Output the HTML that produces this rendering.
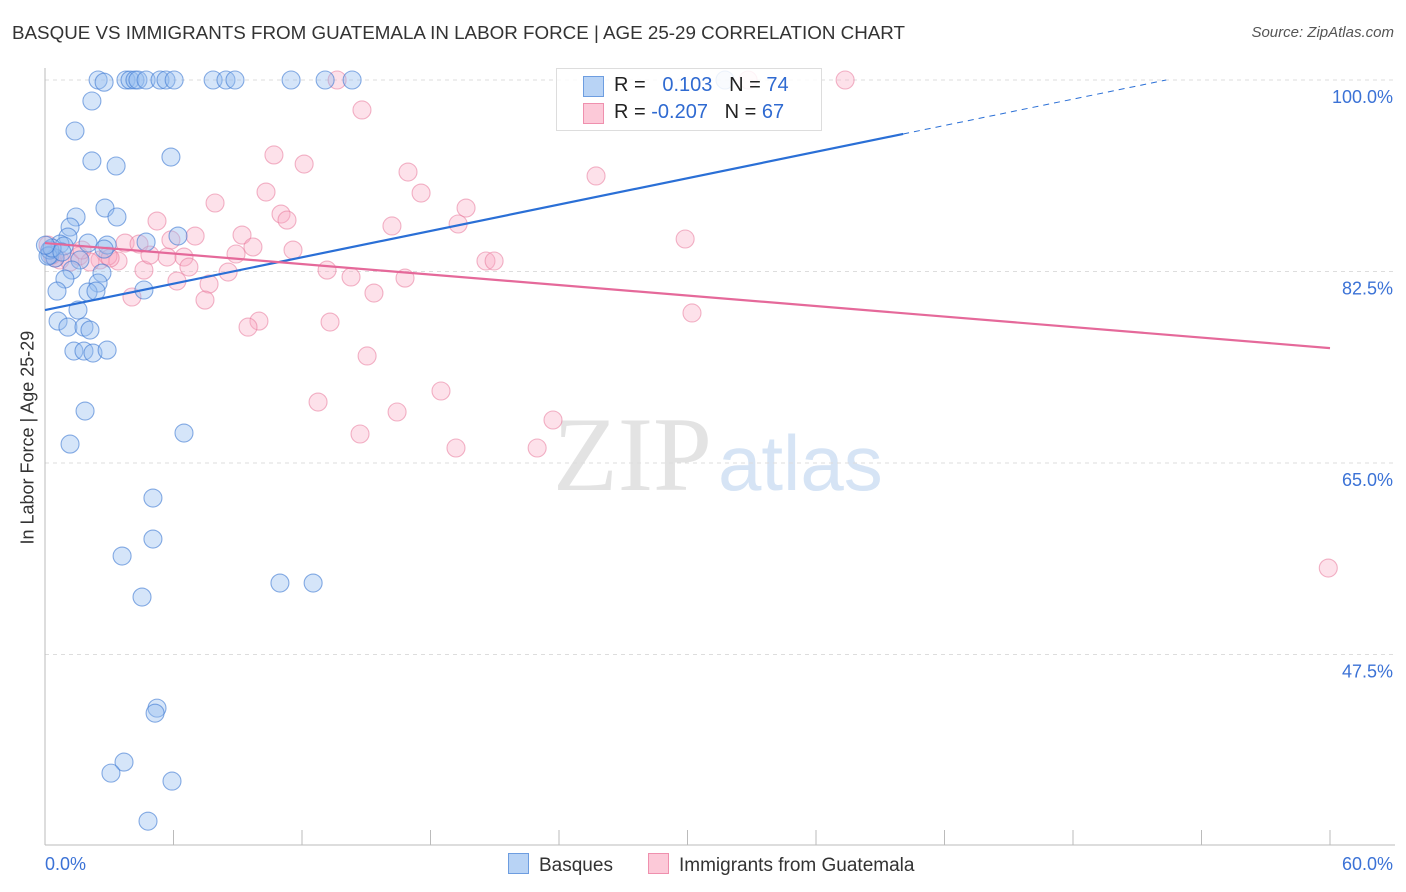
<!DOCTYPE html>
<html><head><meta charset="utf-8">
<style>
body{margin:0;background:#fff;font-family:"Liberation Sans",sans-serif;}
#wrap{position:relative;width:1406px;height:892px;overflow:hidden;}
.t{position:absolute;white-space:nowrap;}
</style></head>
<body>
<div id="wrap">
<div class="t" style="left:12px;top:22px;font-size:18.8px;color:#333;">BASQUE VS IMMIGRANTS FROM GUATEMALA IN LABOR FORCE | AGE 25-29 CORRELATION CHART</div>
<div class="t" style="right:12px;top:24px;font-size:15px;color:#555;font-style:italic;">Source: ZipAtlas.com</div>
<div class="t" style="left:-62px;top:444px;font-size:18px;color:#333;transform:rotate(-90deg);width:180px;text-align:center;">In Labor Force | Age 25-29</div>
<svg id="plot" width="1406" height="892" style="position:absolute;left:0;top:0"></svg>
<div class="t" style="left:556px;top:68px;width:264px;height:61px;border:1px solid #ddd;background:rgba(255,255,255,0.85);"></div>
<div class="t" style="left:583px;top:76px;width:19px;height:19px;background:#b8d3f5;border:1px solid #6d9de0;"></div>
<div class="t" style="left:583px;top:103px;width:19px;height:19px;background:#fcc9d8;border:1px solid #ef90ae;"></div>
<div class="t" style="left:614px;top:74px;font-size:20px;color:#222;">R = &nbsp;&nbsp;<span style="color:#2f6ad1">0.103</span>&nbsp;&nbsp;&nbsp;N = <span style="color:#2f6ad1">74</span></div>
<div class="t" style="left:614px;top:101px;font-size:20px;color:#222;">R = <span style="color:#2f6ad1">-0.207</span>&nbsp;&nbsp;&nbsp;N = <span style="color:#2f6ad1">67</span></div>
<div class="t" style="left:508px;top:853px;font-size:19px;color:#333;"><span style="display:inline-block;width:19px;height:19px;background:#b8d3f5;border:1px solid #6d9de0;vertical-align:-3px;margin-right:10px"></span>Basques</div>
<div class="t" style="left:648px;top:853px;font-size:19px;color:#333;"><span style="display:inline-block;width:19px;height:19px;background:#fcc9d8;border:1px solid #ef90ae;vertical-align:-3px;margin-right:10px"></span>Immigrants from Guatemala</div>
</div>
<script>
const yTicks=[100,82.5,65,47.5];
const yTickLabels=["100.0%","82.5%","65.0%","47.5%"];
const xTicks=[0,6,12,18,24,30,36,42,48,54,60];
const xEndLabels=["0.0%","60.0%"];
const basqueX=[2.48,3.78,3.97,4.20,4.34,4.72,5.37,5.65,6.03,7.85,8.45,8.87,11.49,13.08,14.34,2.19,1.40,2.19,3.32,5.88,2.80,3.36,1.45,1.17,1.07,0.70,0.89,2.01,2.90,2.76,4.72,6.21,0.23,0.47,1.63,1.26,2.66,0.93,2.48,0.56,2.01,2.38,4.62,1.54,0.61,1.07,1.82,2.10,1.35,1.82,2.24,2.90,1.87,1.17,6.49,5.04,5.04,3.60,10.97,12.52,4.53,5.23,5.14,3.69,3.08,5.93,4.81,0.23,0.14,0.33,0.79,0.02,2.76,31.75];
const basqueY=[100,100,100,100,100,100,100,100,100,100,100,100,100,100,100,98.08,95.34,92.60,92.14,92.96,88.30,87.48,87.48,86.56,85.65,85.01,84.83,85.10,84.92,84.55,85.19,85.74,84.00,83.73,83.55,82.63,82.36,81.81,81.45,80.71,80.62,80.71,80.81,78.98,77.97,77.42,77.42,77.15,75.23,75.23,75.05,75.32,69.75,66.73,67.74,61.80,58.05,56.50,54.03,54.03,52.75,42.60,42.14,37.67,36.66,35.93,32.27,84.46,83.91,84.64,84.28,84.9,99.8,100];
const guatX=[13.64,32.83,37.36,14.80,10.69,12.10,16.95,25.73,10.32,17.56,7.94,11.02,11.30,19.66,5.23,16.20,19.29,9.20,7.01,29.89,3.74,4.39,5.88,9.71,11.58,8.92,5.70,6.49,1.59,2.57,3.41,2.94,0.70,4.62,6.72,8.55,13.17,14.29,16.81,20.59,20.97,6.16,7.66,15.36,7.47,4.06,9.99,9.48,13.31,30.21,15.04,18.49,12.75,16.44,23.72,14.71,19.19,22.98,59.92,0.14,0.47,1.17,2.10,0.33,3.04,1.73,4.90];
const guatY=[100,100,100,97.26,93.15,92.32,91.59,91.23,89.76,89.67,88.76,87.75,87.20,88.30,87.11,86.66,86.84,85.83,85.74,85.47,85.10,85.01,85.38,84.74,84.46,84.10,83.82,83.82,83.91,83.55,83.46,83.91,83.55,82.63,82.91,82.45,82.63,82.00,81.90,83.46,83.46,81.63,81.35,80.53,79.89,80.17,77.97,77.42,77.88,78.71,74.78,71.58,70.57,69.66,68.93,67.65,66.37,66.37,55.40,84.92,83.73,83.37,83.37,84.00,83.73,84.46,84.00];
const basqueFit=[78.98,0.4015];
const guatFit=[85.10,-0.16];
const X=v=>45+v/60*1285;
const Y=v=>80+(100-v)/17.5*191.5;
const svg=document.getElementById('plot');
const NS='http://www.w3.org/2000/svg';
function mk(tag,a){const e=document.createElementNS(NS,tag);for(const k in a)e.setAttribute(k,a[k]);svg.appendChild(e);return e;}
let w=mk('text',{x:553,y:490,'font-size':106,fill:'#e3e3e3','font-family':'Liberation Serif, serif'});w.textContent='ZIP';


w=mk('text',{x:718,y:490,'font-size':78,fill:'#d6e4f5','font-family':'Liberation Sans, sans-serif'});w.textContent='atlas';


yTicks.forEach((t,i)=>{
 const g=mk('line',{x1:45,x2:1395,y1:Y(t),y2:Y(t),stroke:'#ddd','stroke-dasharray':'4,4'});
 
 
 const l=mk('text',{x:1393,y:Y(t)+23,'text-anchor':'end','font-size':18,fill:'#3b72d6','font-family':'Liberation Sans, sans-serif'});
 l.textContent=yTickLabels[i];
 
 
});
let ax=mk('line',{x1:45,x2:45,y1:68,y2:845,stroke:'#bbb'});


ax=mk('line',{x1:45,x2:1395,y1:845,y2:845,stroke:'#bbb'});


xTicks.forEach(t=>{const e=mk('line',{x1:X(t),x2:X(t),y1:830,y2:845,stroke:'#bbb'});
 
 });
[[0,'start',45],[60,'end',1393]].forEach((d,i)=>{const e=mk('text',{x:d[2],y:870,'text-anchor':d[1],'font-size':18,fill:'#3b72d6','font-family':'Liberation Sans, sans-serif'});e.textContent=xEndLabels[i];
 
 });
guatX.forEach((x,i)=>{const c=mk('circle',{cx:X(x),cy:Y(guatY[i]),r:9,fill:'rgba(249,170,195,0.35)',stroke:'rgba(232,120,155,0.55)','stroke-width':1.1});
 
 });
basqueX.forEach((x,i)=>{const c=mk('circle',{cx:X(x),cy:Y(basqueY[i]),r:9,fill:'rgba(150,190,240,0.4)',stroke:'rgba(60,120,210,0.6)','stroke-width':1.1});
 
 });
const bx1=40.07, bx2=(100-basqueFit[0])/basqueFit[1];
let tl=mk('line',{x1:X(0),y1:Y(basqueFit[0]),x2:X(bx1),y2:Y(basqueFit[0]+basqueFit[1]*bx1),stroke:'#2a6fd6','stroke-width':2.2});


tl=mk('line',{x1:X(bx1),y1:Y(basqueFit[0]+basqueFit[1]*bx1),x2:X(bx2),y2:Y(100),stroke:'#2a6fd6','stroke-width':1,'stroke-dasharray':'6,5'});


tl=mk('line',{x1:X(0),y1:Y(guatFit[0]),x2:X(60),y2:Y(guatFit[0]+guatFit[1]*60),stroke:'#e5699a','stroke-width':2.2});


</script>
</body></html>
